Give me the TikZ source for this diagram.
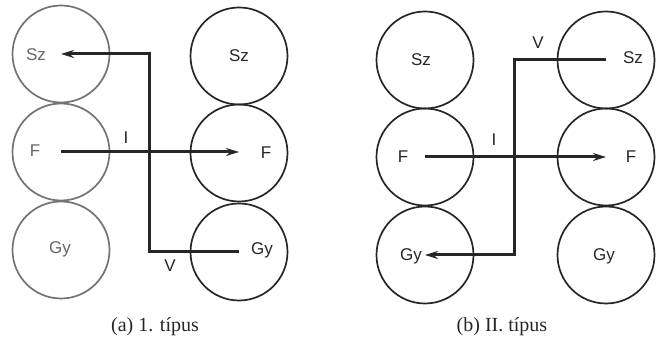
\documentclass[tikz,border=0pt]{standalone}
\usepackage{fontspec}
\setmainfont{Liberation Serif}
\newfontfamily\lblfont{Liberation Sans}
\usetikzlibrary{arrows.meta}
\begin{document}
\begin{tikzpicture}[x=1pt,y=-1pt,
  ring/.style={circle,draw=black!85,line width=1.7pt,minimum size=97pt,inner sep=0pt},
  fadering/.style={ring,draw=black!55},
  lbl/.style={font=\lblfont\fontsize{17}{17}\selectfont,text=black!85,inner sep=0pt},
  arr/.style={line width=3pt,black!85,-{Stealth[length=13pt,width=8pt]}},
  captxt/.style={font=\fontsize{20}{20}\selectfont,text=black!85,inner sep=0pt}]
\useasboundingbox (0,0) rectangle (662,344);
% panel (a)
\node[fadering] (aLSz) at (61,54) {};
\node[fadering] (aLF) at (61,152) {};
\node[fadering] (aLGy) at (61,250) {};
\node[ring] (aRSz) at (239,56) {};
\node[ring] (aRF) at (239,153) {};
\node[ring] (aRGy) at (239,252) {};
\node[lbl,text=black!60] (taLSz) at (36,55) {Sz};
\node[lbl,text=black!60] (taLF) at (35,151) {F};
\node[lbl,text=black!60] (taLGy) at (60,249) {Gy};
\node[lbl] (taRSz) at (239,56) {Sz};
\node[lbl] (taRF) at (266,153) {F};
\node[lbl] (taRGy) at (262,250) {Gy};
\coordinate (aV) at (149,0);
\draw[arr] (aLF.center) -- (aLF.center -| aRF.center);
\draw[arr] (aRGy.center) -| (aV |- aLSz.center) -- (aLSz.center);
\node[lbl] (aI) at (126,138) {I};
\node[lbl] (aVl) at (170,266) {V};
\node[captxt] (capa) at (155,327) {(a) 1. típus};
% panel (b)
\node[ring] (bLSz) at (425,60) {};
\node[ring] (bLF) at (425,157) {};
\node[ring] (bLGy) at (425,255) {};
\node[ring] (bRSz) at (606,60) {};
\node[ring] (bRF) at (606,157) {};
\node[ring] (bRGy) at (606,255) {};
\node[lbl] (tbLSz) at (421,60) {Sz};
\node[lbl] (tbLF) at (403,157) {F};
\node[lbl] (tbLGy) at (411,256) {Gy};
\node[lbl] (tbRSz) at (633,58) {Sz};
\node[lbl] (tbRF) at (631,157) {F};
\node[lbl] (tbRGy) at (604,256) {Gy};
\coordinate (bV) at (514,0);
\draw[arr] (bLF.center) -- (bLF.center -| bRF.center);
\draw[arr] (bRSz.center) -| (bV |- bLGy.center) -- (bLGy.center);
\node[lbl] (bI) at (494,140) {I};
\node[lbl] (bVl) at (538,43) {V};
\node[captxt] (capb) at (502,327) {(b) II. típus};
\end{tikzpicture}
\end{document}
